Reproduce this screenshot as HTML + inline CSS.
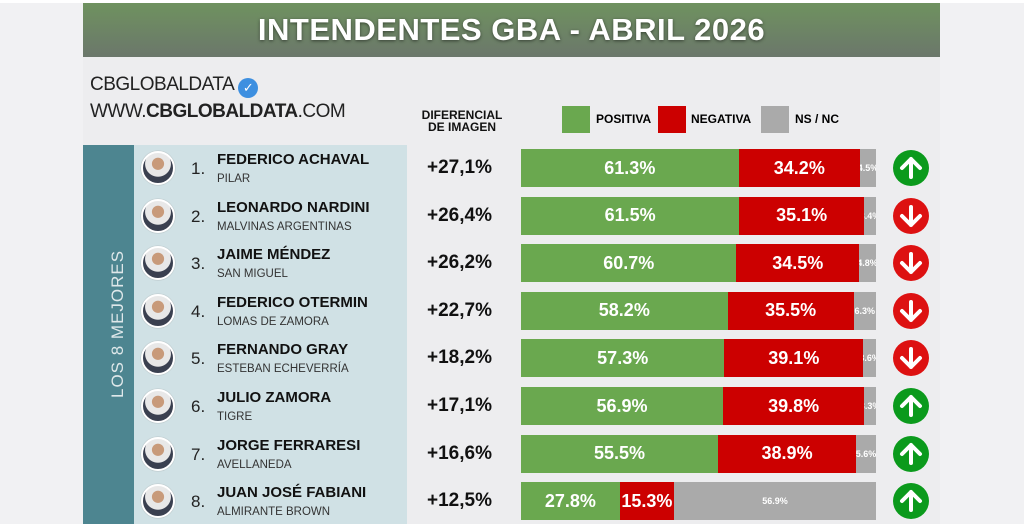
<!DOCTYPE html>
<html><head><meta charset="utf-8"><style>
*{margin:0;padding:0;box-sizing:border-box}
body{width:1024px;height:524px;overflow:hidden;background:#f1f1f3;font-family:"Liberation Sans",Arial,sans-serif;position:relative}
.a{position:absolute}
.hdr{left:83px;top:3px;width:857px;height:54px;background:linear-gradient(#6f925f,#6b776b);color:#fff;font-weight:bold;font-size:31px;text-align:center;line-height:54px;text-shadow:0 1px 3px rgba(0,0,0,.5);letter-spacing:.5px}
.panel{left:83px;top:57px;width:857px;height:467px;background:#ededef}
.teal{left:83px;top:145px;width:51px;height:379px;background:#4d8590}
.light{left:134px;top:145px;width:273px;height:379px;background:#d0e1e5}
.vt{left:83px;top:145px;width:51px;height:379px}
.vt span{position:absolute;left:25px;top:253px;transform:rotate(-90deg);transform-origin:0 0;color:#dfe8ea;font-size:17px;letter-spacing:1px;white-space:nowrap}
.av{width:34px;height:34px;border-radius:50%;background:radial-gradient(circle at 50% 36%,#c89a7a 0 24%,#e8e8e8 26% 52%,#3a4050 54% 100%);border:2px solid #fff;box-shadow:0 0 1px #888}
.num{font-size:17px;color:#222}
.nm{font-size:15px;font-weight:bold;color:#111;white-space:nowrap}
.sb{font-size:11.5px;color:#333;white-space:nowrap}
.df{font-size:19px;font-weight:bold;color:#111}
.bar{display:flex;width:355px;height:38px;left:521px}
.bar div{height:100%;display:flex;align-items:center;justify-content:center;color:#fff;font-size:18px;font-weight:bold;overflow:hidden;white-space:nowrap}
.g{background:#6aa84f}.r{background:#cc0000}.y{background:#aaaaaa}
.bar .y{font-size:9px}
.ar{width:36px;height:36px;border-radius:50%;left:893px;display:flex;align-items:center;justify-content:center}
.up{background:#0b9a1c}.dn{background:#dd1111}
</style></head><body>
<div class="a" style="left:0;top:0;width:1024px;height:3px;background:#fff"></div>
<div class="a panel"></div>
<div class="a hdr">INTENDENTES GBA - ABRIL 2026</div>
<div class="a" style="left:90px;top:74px;font-size:19px;color:#222;letter-spacing:-.5px">CBGLOBALDATA <span style="display:inline-block;width:20px;height:20px;border-radius:50%;background:#3d8fe0;color:#fff;font-size:13px;text-align:center;line-height:20px;vertical-align:-2px">✓</span></div>
<div class="a" style="left:90px;top:101px;font-size:19px;color:#222;letter-spacing:-.5px">WWW.<b>CBGLOBALDATA</b>.COM</div>
<div class="a" style="left:412px;top:109px;width:100px;text-align:center;font-size:12px;font-weight:bold;line-height:12px;color:#111">DIFERENCIAL<br>DE IMAGEN</div>
<div class="a" style="left:562px;top:106px;width:28px;height:27px;background:#6aa84f"></div>
<div class="a" style="left:596px;top:112px;font-size:12px;font-weight:bold">POSITIVA</div>
<div class="a" style="left:658px;top:106px;width:28px;height:27px;background:#cc0000"></div>
<div class="a" style="left:691px;top:112px;font-size:12px;font-weight:bold">NEGATIVA</div>
<div class="a" style="left:761px;top:106px;width:28px;height:27px;background:#aaa"></div>
<div class="a" style="left:795px;top:112px;font-size:12px;font-weight:bold">NS / NC</div>
<div class="a teal"></div><div class="a light"></div>
<div class="a vt"><span>LOS 8 MEJORES</span></div>
<div id="rows"></div>
<script>
var d=[["FEDERICO ACHAVAL","PILAR","+27,1%",61.3,34.2,4.5,1],
["LEONARDO NARDINI","MALVINAS ARGENTINAS","+26,4%",61.5,35.1,3.4,0],
["JAIME MÉNDEZ","SAN MIGUEL","+26,2%",60.7,34.5,4.8,0],
["FEDERICO OTERMIN","LOMAS DE ZAMORA","+22,7%",58.2,35.5,6.3,0],
["FERNANDO GRAY","ESTEBAN ECHEVERRÍA","+18,2%",57.3,39.1,3.6,0],
["JULIO ZAMORA","TIGRE","+17,1%",56.9,39.8,3.3,1],
["JORGE FERRARESI","AVELLANEDA","+16,6%",55.5,38.9,5.6,1],
["JUAN JOSÉ FABIANI","ALMIRANTE BROWN","+12,5%",27.8,15.3,56.9,1]];
var h="";
d.forEach(function(r,i){var c=168+i*47.6;
h+='<div class="a av" style="left:141px;top:'+(c-17)+'px"></div>';
h+='<div class="a num" style="left:191px;top:'+(c-9)+'px">'+(i+1)+'.</div>';
h+='<div class="a nm" style="left:217px;top:'+(c-17)+'px">'+r[0]+'</div>';
h+='<div class="a sb" style="left:217px;top:'+(c+5)+'px">'+r[1]+'</div>';
h+='<div class="a df" style="left:427px;top:'+(c-11)+'px">'+r[2]+'</div>';
h+='<div class="a bar" style="top:'+(c-19)+'px"><div class="g" style="width:'+r[3]+'%">'+r[3].toFixed(1)+'%</div><div class="r" style="width:'+r[4]+'%">'+r[4].toFixed(1)+'%</div><div class="y" style="width:'+r[5]+'%">'+r[5].toFixed(1)+'%</div></div>';
h+='<div class="a ar '+(r[6]?'up':'dn')+'" style="top:'+(c-18)+'px"><svg width="24" height="24" viewBox="0 0 24 24"><path d="'+(r[6]?'M12 3 L21 12 M12 3 L3 12 M12 3 L12 21':'M12 21 L21 12 M12 21 L3 12 M12 21 L12 3')+'" stroke="#fff" stroke-width="4" fill="none" stroke-linecap="round"/></svg></div>';
});
document.getElementById("rows").innerHTML=h;
</script>
</body></html>
